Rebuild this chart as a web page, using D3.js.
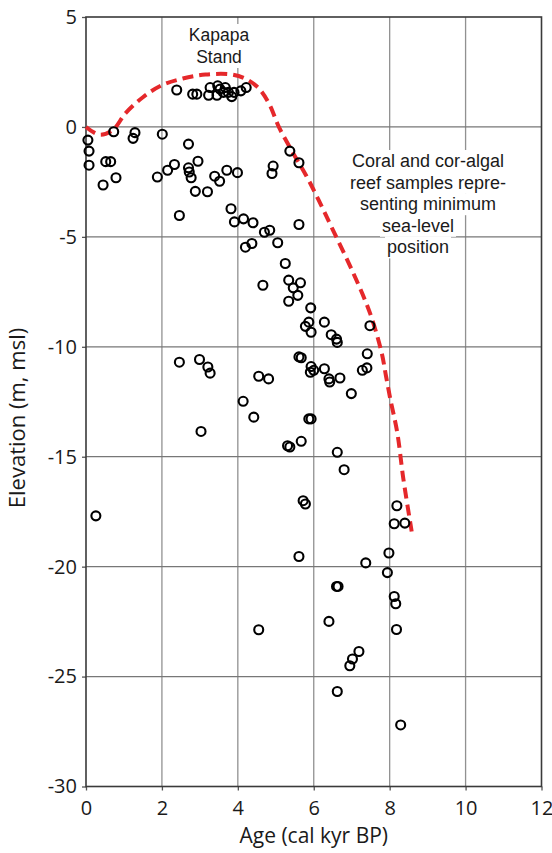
<!DOCTYPE html>
<html>
<head>
<meta charset="utf-8">
<script src="https://d3js.org/d3.v7.min.js"></script>
<style>
  body { margin: 0; background: #fff; }
  svg { display: block; }
</style>
</head>
<body>
<svg id="chart" width="552" height="853"></svg>
<script>
// sample ages (cal kyr BP) and elevations (m, msl)
var sampleAge = [
    2.39, 2.81, 2.92, 3.27, 3.23, 3.47, 3.53, 3.62, 3.45, 3.67, 3.75, 3.84, 3.90, 4.08, 4.22,
    0.05, 0.08, 0.08, 0.73, 1.29, 1.24, 2.01, 2.70, 0.52, 0.65, 0.79, 0.45, 1.88, 2.15, 2.33,
    2.70, 2.72, 2.77, 2.95, 2.88, 3.20, 3.39, 3.52, 3.71, 3.99, 4.93, 4.90, 5.37, 5.61,
    2.46, 3.82, 3.91, 4.15, 4.40, 4.70, 4.84, 4.20, 4.37, 5.05, 5.61, 5.25, 4.66, 5.34, 5.46,
    5.65, 5.58, 5.34, 5.92, 6.28, 5.78, 5.87, 5.93, 6.46, 6.60, 6.62, 7.48, 5.61, 5.67, 7.41,
    7.28, 7.40, 5.93, 6.00, 6.28, 5.91, 4.55, 4.81, 6.40, 6.42, 6.69, 2.46, 2.99, 3.21, 3.27,
    6.99, 4.14, 4.42, 3.03, 5.87, 5.93, 5.31, 5.37, 5.67, 6.62, 6.80, 5.72, 5.78, 8.19, 8.12,
    8.40, 0.26, 5.61, 7.98, 7.37, 7.94, 6.60, 6.64, 8.12, 8.16, 8.18, 4.55, 6.40, 7.19, 7.02,
    6.95, 6.62, 8.29
];
var sampleElev = [
    1.68, 1.49, 1.49, 1.79, 1.44, 1.87, 1.72, 1.57, 1.44, 1.79, 1.57, 1.38, 1.57, 1.64, 1.79,
    -0.60, -1.10, -1.74, -0.22, -0.26, -0.52, -0.33, -0.78, -1.58, -1.58, -2.31, -2.64, -2.28, -1.97, -1.71,
    -1.86, -2.05, -2.31, -1.56, -2.93, -2.95, -2.24, -2.47, -1.97, -2.08, -1.78, -2.12, -1.10, -1.63,
    -4.03, -3.72, -4.32, -4.18, -4.36, -4.79, -4.70, -5.47, -5.30, -5.27, -4.44, -6.21, -7.20, -6.97, -7.32,
    -7.09, -7.66, -7.93, -8.23, -8.88, -9.07, -8.88, -9.34, -9.45, -9.65, -9.80, -9.04, -10.46, -10.50, -10.32,
    -11.07, -10.96, -10.90, -11.07, -11.00, -11.16, -11.34, -11.46, -11.46, -11.60, -11.42, -10.70, -10.58, -10.92, -11.20,
    -12.13, -12.48, -13.20, -13.85, -13.28, -13.28, -14.50, -14.56, -14.30, -14.80, -15.59, -17.00, -17.15, -17.23, -18.05,
    -18.02, -17.69, -19.54, -19.38, -19.83, -20.27, -20.90, -20.90, -21.36, -21.69, -22.86, -22.87, -22.49, -23.86, -24.20,
    -24.51, -25.68, -27.20
];

// red dashed sea-level envelope
var envAge = [0, 0.35, 0.7, 1.05, 1.5, 2.0, 2.55, 3.15, 3.85, 4.25, 4.57, 4.84, 5.08, 5.45, 5.81, 6.12, 6.5, 7.04, 7.48, 7.79, 7.9, 8.02, 8.2, 8.36, 8.58];
var envElev = [0, -0.35, -0.15, 0.64, 1.35, 1.9, 2.2, 2.38, 2.38, 2.15, 1.72, 1.0, 0.0, -1.17, -2.24, -3.3, -4.67, -6.64, -8.46, -10.28, -11.3, -12.4, -13.9, -16.0, -18.4];

var xTicks = [0, 2, 4, 6, 8, 10, 12];
var yTicks = [5, 0, -5, -10, -15, -20, -25, -30];

var kapapaLines = ["Kapapa", "Stand"];
var noteLines = ["Coral and cor-algal", "reef samples repre-", "senting minimum", "sea-level", "position"];
var noteShift = [0, 0, 0, -10, -10];

var svg = d3.select("#chart");
var plotLeft = 86, plotRight = 541.5, plotTop = 17, plotBottom = 786.5;

var x = d3.scaleLinear().domain([0, 12]).range([plotLeft, plotRight]);
var y = d3.scaleLinear().domain([-30, 5]).range([plotBottom, plotTop]);

var tickFont = "'Open Sans', 'DejaVu Sans', sans-serif";
var noteFont = "'Liberation Sans', Arial, sans-serif";

// grid
svg.append("g").selectAll("line")
    .data(xTicks.slice(1, -1))
    .enter().append("line")
    .attr("x1", function (d) { return x(d); })
    .attr("x2", function (d) { return x(d); })
    .attr("y1", plotTop).attr("y2", plotBottom)
    .attr("stroke", "#919191").attr("stroke-width", 1.3);

svg.append("g").selectAll("line")
    .data(yTicks.slice(1, -1))
    .enter().append("line")
    .attr("y1", function (d) { return y(d); })
    .attr("y2", function (d) { return y(d); })
    .attr("x1", plotLeft).attr("x2", plotRight)
    .attr("stroke", "#777").attr("stroke-width", 1.3);

// axes (plain hyphen for negatives, as in the original)
var fmt = function (d) { return String(d); };
var xAxis = svg.append("g")
    .attr("transform", "translate(0," + plotBottom + ")")
    .call(d3.axisBottom(x).tickValues(xTicks).tickFormat(fmt).tickSize(4).tickPadding(10));
var yAxis = svg.append("g")
    .attr("transform", "translate(" + plotLeft + ",0)")
    .call(d3.axisLeft(y).tickValues(yTicks).tickFormat(fmt).tickSize(4).tickPadding(5));

[xAxis, yAxis].forEach(function (ax) {
    ax.select(".domain").remove();
    ax.selectAll(".tick line").attr("stroke", "#555").attr("stroke-width", 1.3);
    ax.selectAll(".tick text")
        .attr("fill", "#1a1a1a")
        .style("font-family", tickFont)
        .style("font-size", "20px");
});

// frame
svg.append("rect")
    .attr("x", plotLeft).attr("y", plotTop)
    .attr("width", plotRight - plotLeft).attr("height", plotBottom - plotTop)
    .attr("fill", "none").attr("stroke", "#3a3a3a").attr("stroke-width", 1.6);

// annotations with white boxes behind each line
function addTextBlock(lines, shifts, cx, firstBaseline, lineGap, size) {
    var g = svg.append("g");
    lines.forEach(function (t, i) {
        var txt = g.append("text")
            .attr("x", cx + (shifts ? shifts[i] : 0))
            .attr("y", firstBaseline + i * lineGap)
            .attr("text-anchor", "middle")
            .style("font-family", noteFont)
            .style("font-size", size + "px")
            .attr("fill", "#1a1a1a")
            .text(t);
        var bb = txt.node().getBBox();
        g.insert("rect", "text")
            .attr("x", bb.x - 2).attr("y", bb.y - 1)
            .attr("width", bb.width + 4).attr("height", bb.height + 2)
            .attr("fill", "#fff");
    });
}
addTextBlock(kapapaLines, null, 219, 41, 22, 17.5);

// envelope
var line = d3.line()
    .x(function (d) { return x(d[0]); })
    .y(function (d) { return y(d[1]); })
    .curve(d3.curveCatmullRom.alpha(0.5));

svg.append("path")
    .datum(d3.zip(envAge, envElev))
    .attr("d", line)
    .attr("fill", "none")
    .attr("stroke", "#e5282b")
    .attr("stroke-width", 4)
    .attr("stroke-dasharray", "11,6");

// samples
svg.append("g").selectAll("circle")
    .data(d3.zip(sampleAge, sampleElev))
    .enter().append("circle")
    .attr("cx", function (d) { return x(d[0]); })
    .attr("cy", function (d) { return y(d[1]); })
    .attr("r", 4.5)
    .attr("fill", "none")
    .attr("stroke", "#000")
    .attr("stroke-width", 2.1);

addTextBlock(noteLines, noteShift, 428, 167, 21.6, 18);

// axis titles
svg.append("text")
    .attr("x", (plotLeft + plotRight) / 2).attr("y", 843)
    .attr("text-anchor", "middle")
    .style("font-family", tickFont).style("font-size", "21px")
    .attr("fill", "#1a1a1a")
    .text("Age (cal kyr BP)");

svg.append("text")
    .attr("transform", "translate(25,418) rotate(-90)")
    .attr("text-anchor", "middle")
    .style("font-family", tickFont).style("font-size", "22px")
    .attr("fill", "#1a1a1a")
    .text("Elevation (m, msl)");
</script>
</body>
</html>
